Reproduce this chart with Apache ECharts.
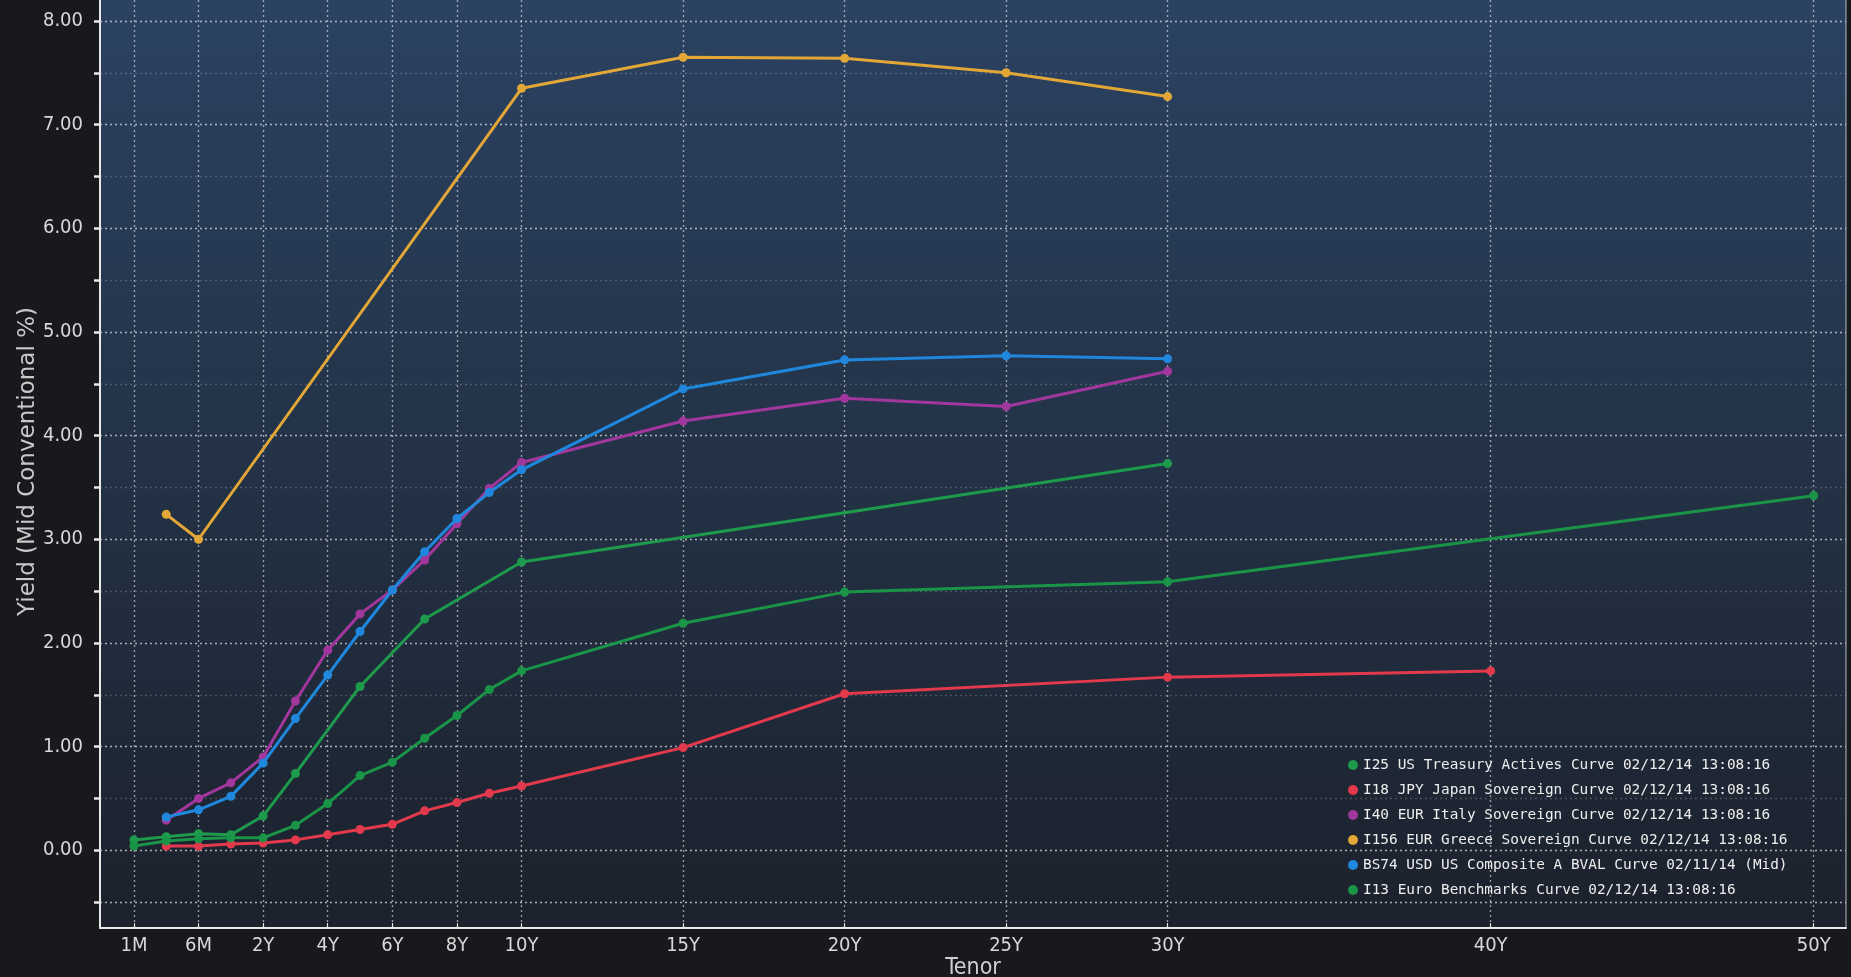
<!DOCTYPE html>
<html>
<head>
<meta charset="utf-8">
<script src="https://cdn.jsdelivr.net/npm/echarts@6/dist/echarts.min.js"></script>
<style>
html,body{margin:0;padding:0;background:#18191d;overflow:hidden;}
#chart{width:1851px;height:977px;}
</style>
</head>
<body>
<div id="chart"></div>
<script>
// ---- Tick labels ----
const xTickLabels = ['1M','6M','2Y','4Y','6Y','8Y','10Y','15Y','20Y','25Y','30Y','40Y','50Y'];
const yTickLabels = [0,1,2,3,4,5,6,7,8];
const yMajorGrid = [-0.5,0,1,2,3,4,5,6,7,8];
const yHalfTicks = [-0.5,0,0.5,1,1.5,2,2.5,3,3.5,4,4.5,5,5.5,6,6.5,7,7.5,8];

// ---- Series ----
const usTenors = ['1M','3M','6M','1Y','2Y','3Y','5Y','7Y','10Y','30Y'];
const usYields = [0.10,0.13,0.16,0.15,0.33,0.74,1.58,2.23,2.78,3.73];

const jpTenors = ['3M','6M','1Y','2Y','3Y','4Y','5Y','6Y','7Y','8Y','9Y','10Y','15Y','20Y','30Y','40Y'];
const jpYields = [0.04,0.04,0.06,0.07,0.10,0.15,0.20,0.25,0.38,0.46,0.55,0.62,0.99,1.51,1.67,1.73];

const itTenors = ['3M','6M','1Y','2Y','3Y','4Y','5Y','6Y','7Y','8Y','9Y','10Y','15Y','20Y','25Y','30Y'];
const itYields = [0.29,0.50,0.65,0.90,1.44,1.93,2.28,2.51,2.80,3.15,3.49,3.74,4.14,4.36,4.28,4.62];

const grTenors = ['3M','6M','10Y','15Y','20Y','25Y','30Y'];
const grYields = [3.24,3.00,7.35,7.65,7.64,7.50,7.27];

const bvTenors = ['3M','6M','1Y','2Y','3Y','4Y','5Y','6Y','7Y','8Y','9Y','10Y','15Y','20Y','25Y','30Y'];
const bvYields = [0.32,0.39,0.52,0.84,1.27,1.69,2.11,2.51,2.88,3.20,3.45,3.67,4.45,4.73,4.77,4.74];

const euTenors = ['1M','3M','6M','1Y','2Y','3Y','4Y','5Y','6Y','7Y','8Y','9Y','10Y','15Y','20Y','30Y','50Y'];
const euYields = [0.04,0.09,0.11,0.12,0.12,0.24,0.45,0.72,0.85,1.08,1.30,1.55,1.73,2.19,2.49,2.59,3.42];

const seriesNames = [
  'I25 US Treasury Actives Curve 02/12/14 13:08:16',
  'I18 JPY Japan Sovereign Curve 02/12/14 13:08:16',
  'I40 EUR Italy Sovereign Curve 02/12/14 13:08:16',
  'I156 EUR Greece Sovereign Curve 02/12/14 13:08:16',
  'BS74 USD US Composite A BVAL Curve 02/11/14 (Mid)',
  'I13 Euro Benchmarks Curve 02/12/14 13:08:16'
];
const seriesColors = ['#1d9a4c','#e23a4c','#a1379d','#e2a737','#1f88dd','#1a9447'];

// Tenor axis scale (Bloomberg-style): money-market tenors one step apart,
// then linear in years from 1Y.
const shortEnd = {1:-2, 3:-1, 6:0};
function tenorPos(t){
  const n = parseFloat(t);
  if (t.endsWith('M')) return shortEnd[n];
  return n;
}
const posToLabel = {};
xTickLabels.forEach(l => { posToLabel[tenorPos(l)] = l; });

function build(tenors, yields){
  return tenors.map((t,i) => [tenorPos(t), yields[i]]);
}
const allData = [
  build(usTenors, usYields),
  build(jpTenors, jpYields),
  build(itTenors, itYields),
  build(grTenors, grYields),
  build(bvTenors, bvYields),
  build(euTenors, euYields)
];

const chart = echarts.init(document.getElementById('chart'), null, {renderer:'canvas', width:1851, height:977});
const labelFont = '"DejaVu Sans Condensed","Liberation Sans Narrow","DejaVu Sans",sans-serif';
const dotted = (a) => ({show:true, lineStyle:{color:'rgba(225,228,235,'+a+')', type:[2,3], width:1.4}});

chart.setOption({
  animation:false,
  backgroundColor:'#18191d',
  grid:{
    left:100, right:5, top:-5, bottom:49,
    outerBoundsMode:'none', containLabel:false,
    show:true, borderWidth:0,
    backgroundColor:new echarts.graphic.LinearGradient(0,0,0,1,[
      {offset:0, color:'#2b4262'},
      {offset:0.45, color:'#243449'},
      {offset:1, color:'#1c212c'}
    ])
  },
  legend:{
    orient:'vertical', left:1343, top:753, itemGap:11,
    icon:'circle', itemWidth:10, itemHeight:10,
    textStyle:{color:'#eeeeee', fontSize:14.4, fontFamily:'"DejaVu Sans Mono",monospace'},
    data:seriesNames
  },
  xAxis:{
    type:'value', min:-3.05, max:51,
    name:'Tenor', nameLocation:'middle', nameGap:28.5, nameMoveOverlap:false,
    nameTextStyle:{color:'#cfcfcf', fontSize:23, fontFamily:labelFont},
    axisLine:{show:true, onZero:false, lineStyle:{color:'#e8e8e8', width:2}},
    axisTick:{show:true, inside:true, length:5, lineStyle:{color:'#e8e8e8'},
      customValues: xTickLabels.map(tenorPos)},
    axisLabel:{color:'#d8d8d8', fontSize:20, fontFamily:labelFont, margin:8,
      customValues: xTickLabels.map(tenorPos),
      formatter: v => posToLabel[v] || ''},
    splitLine:dotted(0.62)
  },
  yAxis:[{
    type:'value', min:-0.75, max:8.25,
    name:'Yield (Mid Conventional %)', nameLocation:'middle', nameGap:60, nameMoveOverlap:false,
    nameTextStyle:{color:'#c8c8c8', fontSize:23, fontFamily:'"DejaVu Sans",sans-serif'},
    axisLine:{show:true, onZero:false, lineStyle:{color:'#e8e8e8', width:2}},
    axisTick:{show:true, length:6, lineStyle:{color:'#e8e8e8', width:2.5},
      customValues: yHalfTicks},
    axisLabel:{color:'#d8d8d8', fontSize:20, fontFamily:labelFont, margin:17,
      customValues: yTickLabels,
      formatter: v => v.toFixed(2)},
    splitLine:dotted(0.22)
  },{
    type:'value', min:-0.75, max:8.25, position:'right',
    axisLine:{show:true, onZero:false, lineStyle:{color:'rgba(200,205,215,0.45)', width:2}},
    axisTick:{show:false, customValues: yMajorGrid},
    axisLabel:{show:false, customValues: yMajorGrid},
    splitLine:dotted(0.62)
  }],
  series: allData.map((d,i) => ({
    name:seriesNames[i], type:'line', data:d,
    symbol:'circle', symbolSize:9,
    lineStyle:{width:3, color:seriesColors[i]},
    itemStyle:{color:seriesColors[i]},
    z: 3 + i
  }))
});
</script>
</body>
</html>
